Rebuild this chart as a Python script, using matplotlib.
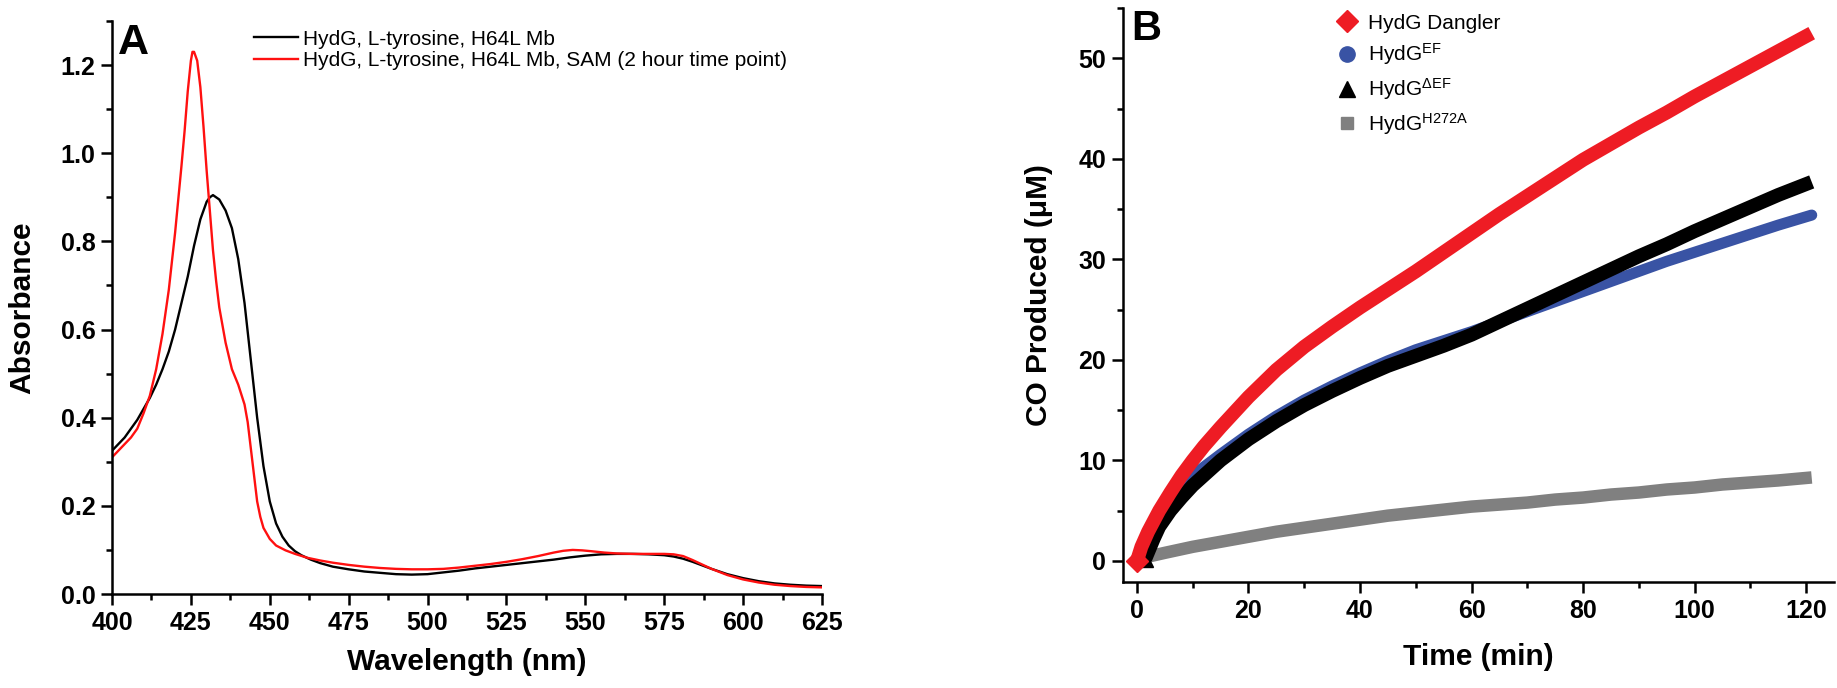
import matplotlib
matplotlib.use("Agg")
import matplotlib.pyplot as plt
from matplotlib.ticker import MultipleLocator
from matplotlib.lines import Line2D

plt.rcParams['font.family'] = ['Liberation Sans', 'DejaVu Sans']
plt.rcParams['mathtext.fontset'] = 'custom'
plt.rcParams['mathtext.rm'] = 'Liberation Sans'
plt.rcParams['mathtext.it'] = 'Liberation Sans:italic'
plt.rcParams['mathtext.bf'] = 'Liberation Sans:bold'

# ---------------- Panel A data ----------------
wl_black = [400, 402, 404, 406, 408, 410, 412, 414, 416, 418, 420, 422, 424, 426, 428, 430,
            431, 432, 433, 434, 436, 438, 440, 442, 444, 446, 448, 450, 452, 454, 456, 458,
            460, 463, 466, 470, 475, 480, 485, 490, 495, 500, 505, 510, 515, 520, 525, 530,
            535, 540, 545, 550, 555, 560, 565, 570, 575, 578, 581, 584, 587, 590, 595, 600,
            605, 610, 615, 620, 625]
abs_black = [0.325, 0.34, 0.355, 0.375, 0.395, 0.42, 0.445, 0.475, 0.51, 0.55, 0.60, 0.66,
             0.72, 0.79, 0.85, 0.89, 0.90, 0.905, 0.90, 0.895, 0.87, 0.83, 0.76, 0.66, 0.53,
             0.40, 0.29, 0.21, 0.16, 0.13, 0.11, 0.097, 0.088, 0.078, 0.07, 0.062, 0.056,
             0.051, 0.048, 0.045, 0.044, 0.045, 0.049, 0.053, 0.058, 0.062, 0.066, 0.07,
             0.074, 0.078, 0.083, 0.087, 0.09, 0.091, 0.091, 0.09, 0.088, 0.085, 0.08, 0.073,
             0.065, 0.057, 0.045, 0.036, 0.029, 0.024, 0.021, 0.019, 0.018]
wl_red = [400, 402, 404, 406, 408, 410, 412, 414, 416, 418, 420, 422, 423, 424, 425, 425.5,
          426, 427, 428, 429, 430, 431, 432, 433, 434, 435, 436, 438, 440, 442, 443, 444, 445,
          446, 447, 448, 450, 452, 455, 458, 462, 466, 470, 475, 480, 485, 490, 495, 500, 505,
          510, 515, 520, 525, 530, 535, 540, 543, 546, 549, 552, 556, 560, 565, 570, 575, 578,
          581, 584, 587, 590, 595, 600, 605, 610, 615, 620, 625]
abs_red = [0.31, 0.325, 0.34, 0.355, 0.375, 0.41, 0.45, 0.51, 0.59, 0.69, 0.82, 0.97, 1.05,
           1.14, 1.21, 1.23, 1.23, 1.21, 1.15, 1.06, 0.96, 0.87, 0.78, 0.71, 0.65, 0.61, 0.57,
           0.51, 0.475, 0.43, 0.39, 0.33, 0.27, 0.21, 0.175, 0.15, 0.125, 0.11, 0.099, 0.091,
           0.082, 0.076, 0.071, 0.066, 0.062, 0.059, 0.057, 0.056, 0.056, 0.057, 0.06, 0.064,
           0.068, 0.073, 0.079, 0.086, 0.094, 0.098, 0.10, 0.099, 0.097, 0.094, 0.092, 0.091,
           0.091, 0.091, 0.09, 0.086, 0.077, 0.067, 0.057, 0.043, 0.033, 0.026, 0.021, 0.018,
           0.016, 0.015]
legend_A = ["HydG, L-tyrosine, H64L Mb",
            "HydG, L-tyrosine, H64L Mb, SAM (2 hour time point)"]

# ---------------- Panel B data ----------------
t_red = [0, 0.8, 2, 4, 6, 8, 10, 12, 15, 20, 25, 30, 35, 40, 45, 50, 55, 60, 65, 70, 75, 80,
         85, 90, 95, 100, 105, 110, 115, 121]
co_red = [0, 1.4, 2.9, 5.0, 6.8, 8.5, 10.0, 11.4, 13.3, 16.3, 19.0, 21.3, 23.3, 25.2, 27.0,
          28.8, 30.7, 32.6, 34.5, 36.3, 38.1, 39.9, 41.5, 43.1, 44.6, 46.2, 47.7, 49.2, 50.7, 52.5]
t_blue = [1, 3, 6, 10, 15, 20, 25, 30, 35, 40, 45, 50, 55, 60, 65, 70, 75, 80, 85, 90, 95,
          100, 105, 110, 115, 121]
co_blue = [0.5, 2.8, 6.0, 8.5, 10.6, 12.6, 14.4, 16.0, 17.4, 18.7, 19.9, 21.0, 21.9, 22.8,
           23.8, 24.8, 25.8, 26.8, 27.8, 28.8, 29.8, 30.7, 31.6, 32.5, 33.4, 34.4]
t_black = [1.5, 3, 4, 6, 8, 10, 15, 20, 25, 30, 35, 40, 45, 50, 55, 60, 65, 70, 75, 80, 85,
           90, 95, 100, 105, 110, 115, 121]
co_black = [0.2, 2.2, 3.4, 5.0, 6.3, 7.5, 10.0, 12.1, 13.9, 15.5, 16.9, 18.2, 19.4, 20.4,
            21.4, 22.5, 23.8, 25.1, 26.4, 27.7, 29.0, 30.3, 31.5, 32.8, 34.0, 35.2, 36.4, 37.7]
t_gray = [1, 5, 10, 15, 20, 25, 30, 35, 40, 45, 50, 55, 60, 65, 70, 75, 80, 85, 90, 95, 100,
          105, 110, 115, 121]
co_gray = [0.3, 0.8, 1.4, 1.9, 2.4, 2.9, 3.3, 3.7, 4.1, 4.5, 4.8, 5.1, 5.4, 5.6, 5.8, 6.1,
           6.3, 6.6, 6.8, 7.1, 7.3, 7.6, 7.8, 8.0, 8.3]
legend_B = ["HydG Dangler", r"HydG$^{\mathrm{EF}}$", r"HydG$^{\Delta\mathrm{EF}}$",
            r"HydG$^{\mathrm{H272A}}$"]

RED = "#ee1c24"
BLUE = "#3953a4"
GRAY = "#808080"

fig = plt.figure(figsize=(18.37, 6.88), dpi=100)
axA = fig.add_axes([112/1837, 94/688, 710/1837, 573/688])
axB = fig.add_axes([1123/1837, 106/688, 711/1837, 574/688])


def style(ax):
    for s in ['top', 'right']:
        ax.spines[s].set_visible(False)
    for s in ['left', 'bottom']:
        ax.spines[s].set_linewidth(1.8)
    ax.tick_params(which='major', direction='out', length=8, width=1.8,
                   labelsize=18, pad=4)
    ax.tick_params(which='minor', direction='out', length=4.5, width=1.8)
    for lab in ax.get_xticklabels() + ax.get_yticklabels():
        lab.set_fontweight('bold')


# Panel A
lb, = axA.plot(wl_black, abs_black, color='black', lw=1.7)
lr, = axA.plot(wl_red, abs_red, color='#ff1010', lw=1.7)
axA.set_xlim(400, 625)
axA.set_ylim(0, 1.30)
axA.xaxis.set_major_locator(MultipleLocator(25))
axA.xaxis.set_minor_locator(MultipleLocator(12.5))
axA.yaxis.set_major_locator(MultipleLocator(0.2))
axA.yaxis.set_minor_locator(MultipleLocator(0.1))
style(axA)
axA.set_xlabel("Wavelength (nm)", fontsize=21.5, fontweight='bold')
axA.set_ylabel("Absorbance", fontsize=21.5, fontweight='bold')
axA.xaxis.set_label_coords(0.5, -0.094)
axA.yaxis.set_label_coords(-0.106, 0.5)
axA.text(0.008, 0.997, "A", transform=axA.transAxes, fontsize=31, fontweight='bold',
         va='top', ha='left')
axA.legend([lb, lr], legend_A, loc='upper left', bbox_to_anchor=(0.2, 0.985),
           frameon=False, fontsize=15, handlelength=2.1, handletextpad=0.25,
           labelspacing=0.12, borderpad=0, borderaxespad=0)

# Panel B
axB.plot(t_gray, co_gray, color=GRAY, lw=9, solid_capstyle='butt', zorder=2)
axB.plot(t_blue, co_blue, color=BLUE, lw=8, solid_capstyle='round', zorder=3)
axB.plot(t_black, co_black, color='black', lw=10, solid_capstyle='butt', zorder=4,
         marker='^', ms=11, markevery=[0])
axB.plot(t_red, co_red, color=RED, lw=10, solid_capstyle='butt', zorder=5,
         marker='D', ms=11, markevery=[0])
axB.set_xlim(-2.5, 125)
axB.set_ylim(-2.1, 55)
axB.xaxis.set_major_locator(MultipleLocator(20))
axB.xaxis.set_minor_locator(MultipleLocator(10))
axB.yaxis.set_major_locator(MultipleLocator(10))
axB.yaxis.set_minor_locator(MultipleLocator(5))
style(axB)
axB.set_xlabel("Time (min)", fontsize=21.5, fontweight='bold')
axB.set_ylabel("CO Produced (μM)", fontsize=21.5, fontweight='bold')
axB.xaxis.set_label_coords(0.5, -0.106)
axB.yaxis.set_label_coords(-0.099, 0.5)
axB.text(0.012, 0.998, "B", transform=axB.transAxes, fontsize=30, fontweight='bold',
         va='top', ha='left')
handles = [Line2D([], [], marker='D', color=RED, ls='none', ms=11),
           Line2D([], [], marker='o', color=BLUE, ls='none', ms=11),
           Line2D([], [], marker='^', color='black', ls='none', ms=11),
           Line2D([], [], marker='s', color=GRAY, ls='none', ms=9)]
axB.legend(handles, legend_B, loc='upper left', bbox_to_anchor=(0.3, 0.99),
           frameon=False, fontsize=15, handlelength=1.0, handletextpad=0.5,
           labelspacing=0.42, borderpad=0, borderaxespad=0)

fig.savefig("out.png", dpi=100)
